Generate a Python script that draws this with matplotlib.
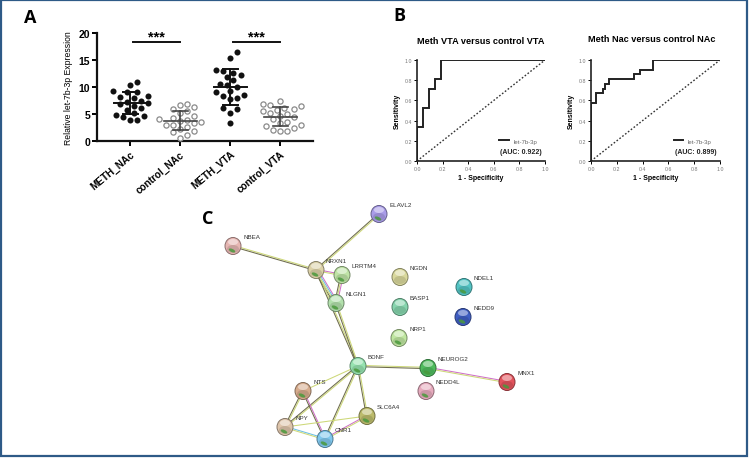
import numpy as np
import matplotlib
matplotlib.use("Agg")
import matplotlib.pyplot as plt
from matplotlib.patches import Ellipse, Rectangle
from matplotlib.colors import to_rgb

plt.rcParams['font.family'] = ['Liberation Sans', 'DejaVu Sans']

# ---- panel A data: relative let-7b-3p expression per group ----
groups = ['METH_NAc', 'control_NAc', 'METH_VTA', 'control_VTA']
meth_nac = [11.0, 10.4, 9.2, 9.0, 9.1, 8.4, 8.1, 7.9, 7.5, 7.2, 7.0, 6.8, 6.5, 6.2,
            5.8, 5.1, 4.8, 4.7, 4.5, 3.9, 3.9]
control_nac = [6.8, 6.7, 6.3, 6.0, 5.5, 5.1, 4.6, 4.3, 4.0, 3.9, 3.7, 3.5, 3.3, 3.0,
               2.9, 2.6, 2.3, 1.8, 1.6, 1.2, 0.6]
meth_vta = [16.5, 15.4, 13.1, 13.0, 12.2, 12.6, 11.8, 11.3, 10.6, 10.4, 10.0, 9.2,
            9.0, 8.6, 8.4, 8.0, 7.8, 6.2, 5.9, 5.1, 3.4]
control_vta = [7.4, 6.9, 6.6, 6.4, 6.2, 6.0, 5.8, 5.5, 5.2, 5.0, 4.6, 4.4, 4.0, 3.6,
               3.3, 3.0, 2.8, 2.5, 2.1, 1.9, 1.8]
group_values = [meth_nac, control_nac, meth_vta, control_vta]
sig_pairs = [(0, 1), (2, 3)]
sig_text = '***'

# ---- panel B data: ROC curves (1 - specificity, sensitivity) ----
roc_titles = ['Meth VTA versus control VTA', 'Meth Nac versus control NAc']
vta_fpr = [0.0, 0.048, 0.095, 0.143, 0.19, 1.0]
vta_tpr = [0.0, 0.333, 0.524, 0.714, 0.81, 1.0]
nac_fpr = [0.0, 0.04, 0.09, 0.11, 0.14, 0.33, 0.38, 0.48, 1.0]
nac_tpr = [0.0, 0.57, 0.67, 0.71, 0.76, 0.81, 0.86, 0.90, 1.0]
roc_auc = [0.922, 0.899]
roc_label = 'let-7b-3p'

# ---- panel C data: STRING network (layout in image pixels) ----
node_names = ['ELAVL2', 'NBEA', 'NRXN1', 'LRRTM4', 'NLGN1', 'NGDN', 'BASP1', 'NRP1',
              'NDEL1', 'NEDD9', 'BDNF', 'NEUROG2', 'NEDD4L', 'MNX1', 'NTS',
              'SLC6A4', 'NPY', 'CNR1']
node_x = [379, 233, 316, 342, 336, 400, 400, 399, 464, 463, 358, 428, 426, 507, 303,
          367, 285, 325]
node_y = [215, 247, 271, 276, 304, 278, 308, 339, 288, 318, 367, 369, 392, 383, 392,
          417, 428, 440]
node_colors = ['#a99ce8', '#e6b6b2', '#dcd2a8', '#bfe3a6', '#b2e0ac', '#d9d89c',
               '#86d4ad', '#bfe6a0', '#52c3c3', '#3f5ec2', '#96e2b0', '#4fbb5e',
               '#e6aabd', '#e2535c', '#d6ab8c', '#bcbb6c', '#dec5ab', '#80c8ee']
no_structure = ['NGDN', 'BASP1']
edges = [('ELAVL2', 'NRXN1', 'yd'), ('NBEA', 'NRXN1', 'yd'), ('NRXN1', 'NLGN1', 'mcyd'),
         ('NRXN1', 'LRRTM4', 'my'), ('LRRTM4', 'NLGN1', 'myd'), ('NRXN1', 'BDNF', 'yd'),
         ('NLGN1', 'BDNF', 'yd'), ('BDNF', 'NEUROG2', 'yd'), ('NEUROG2', 'MNX1', 'my'),
         ('BDNF', 'NTS', 'y'), ('BDNF', 'NPY', 'yd'), ('BDNF', 'CNR1', 'yd'),
         ('BDNF', 'SLC6A4', 'yd'), ('NTS', 'NPY', 'yd'), ('NTS', 'CNR1', 'md'),
         ('NPY', 'CNR1', 'cy'), ('NPY', 'SLC6A4', 'y'), ('CNR1', 'SLC6A4', 'my')]
edge_colors = {'y': '#cdd878', 'd': '#6e6c4c', 'm': '#cf70c9', 'c': '#6cc0e4'}

W, H = 749, 460
fig = plt.figure(figsize=(W / 100, H / 100), dpi=100)


def px_box(left, top, right, bottom):
    return [left / W, 1 - bottom / H, (right - left) / W, (bottom - top) / H]


def swarm(vals, xc, d_px, px_x, px_y):
    # simple beeswarm: nearest free horizontal slot for each point
    order = np.argsort(vals)
    placed = []
    xs = np.zeros(len(vals))
    step = d_px * 0.5
    for i in order:
        ypx = vals[i] * px_y
        for k in range(60):
            off = ((k + 1) // 2) * (1 if k % 2 == 1 else -1) * step
            if all((xo - off) ** 2 + (yo - ypx) ** 2 >= d_px ** 2 for xo, yo in placed):
                break
        placed.append((off, ypx))
        xs[i] = xc + off / px_x
    return xs


# ================= panel A =================
axA = fig.add_axes(px_box(97, 34, 313, 142))
axA.set_xlim(-0.66, 3.66)
axA.set_ylim(0, 20)
px_x = 216 / 4.32
px_y = 108 / 20
for i, vals in enumerate(group_values):
    vals = np.array(vals)
    xs = swarm(vals, i, 7.0, px_x, px_y)
    m, sd = vals.mean(), vals.std(ddof=1)
    if groups[i].startswith('METH'):
        axA.scatter(xs, vals, s=19, color='#111111', zorder=3, linewidths=0)
        lc, lw = '#111111', 1.4
    else:
        axA.scatter(xs, vals, s=14, facecolor='white', edgecolor='#8a8a8a',
                    linewidths=0.9, zorder=3)
        lc, lw = '#444444', 1.2
    axA.plot([i - 0.33, i + 0.33], [m, m], color=lc, lw=lw, zorder=4)
    axA.plot([i, i], [m - sd, m + sd], color=lc, lw=lw, zorder=4)
    for v in (m - sd, m + sd):
        axA.plot([i - 0.15, i + 0.15], [v, v], color=lc, lw=lw, zorder=4)
for a, b in sig_pairs:
    axA.plot([a + 0.06, b - 0.0], [18.3, 18.3], color='#111111', lw=1.4, clip_on=False)
    axA.text((a + b) / 2 + 0.03, 19.4, sig_text, ha='center', va='center',
             fontsize=10.5, fontweight='bold')
axA.spines[['top', 'right']].set_visible(False)
for s in ('left', 'bottom'):
    axA.spines[s].set_linewidth(1.6)
    axA.spines[s].set_color('#111111')
axA.set_yticks([0, 5, 10, 15, 20])
axA.set_xticks(range(4))
axA.set_xticklabels(groups, rotation=40, ha='right', rotation_mode='anchor',
                    fontsize=7.2, fontweight='bold')
axA.tick_params(axis='y', labelsize=7.5, length=3.5, width=1.4, pad=1.5)
axA.tick_params(axis='x', length=3.5, width=1.4, pad=2)
for t in axA.get_yticklabels():
    t.set_fontweight('bold')
axA.set_ylabel('Relative let-7b-3p Expression', fontsize=6.2, labelpad=4)

# ================= panel B =================
roc_boxes = [(417, 61, 545, 162), (591, 61, 720, 162)]
roc_curves = [(vta_fpr, vta_tpr), (nac_fpr, nac_tpr)]
title_pos = [(481, 42), (652, 39)]
for k in range(2):
    ax = fig.add_axes(px_box(*roc_boxes[k]))
    fpr, tpr = roc_curves[k]
    ax.step(fpr, tpr, where='pre', color='#222222', lw=1.4, label=roc_label,
            solid_joinstyle='miter')
    ax.plot([0, 1], [0, 1], ls=(0, (1.2, 1.4)), color='#333333', lw=1.0)
    ax.set_xlim(0, 1)
    ax.set_ylim(0, 1)
    ticks = np.arange(0, 1.01, 0.2)
    ax.set_xticks(ticks)
    ax.set_yticks(ticks)
    ax.set_xticklabels([f'{t:.1f}' for t in ticks])
    ax.set_yticklabels([f'{t:.1f}' for t in ticks])
    ax.tick_params(labelsize=3.8, labelcolor='#777777', length=2, width=0.7, pad=1.5)
    ax.spines[['top', 'right']].set_visible(False)
    for s in ('left', 'bottom'):
        ax.spines[s].set_linewidth(1.2)
        ax.spines[s].set_color('#222222')
    ax.set_xlabel('1 - Specificity', fontsize=5, fontweight='bold', labelpad=2)
    ax.set_ylabel('Sensitivity', fontsize=5, fontweight='bold', labelpad=3)
    ax.legend(loc='lower left', bbox_to_anchor=(0.6, 0.12), frameon=False,
              fontsize=4.3, handlelength=1.6, handletextpad=0.8,
              labelcolor='#666666')
    ax.text(0.81, 0.09, f'(AUC: {roc_auc[k]:.3f})', transform=ax.transAxes,
            ha='center', va='center', fontsize=5, fontweight='bold', color='#222222')
    fig.text(title_pos[k][0] / W, 1 - title_pos[k][1] / H, roc_titles[k],
             ha='center', va='center', fontsize=6.6, fontweight='bold')

# ================= panel C =================
axC = fig.add_axes([0, 0, 1, 1])
axC.set_xlim(0, W)
axC.set_ylim(H, 0)
axC.axis('off')
idx = {n: i for i, n in enumerate(node_names)}
for a, b, cols in edges:
    x0, y0 = node_x[idx[a]], node_y[idx[a]]
    x1, y1 = node_x[idx[b]], node_y[idx[b]]
    d = np.hypot(x1 - x0, y1 - y0)
    nx, ny = -(y1 - y0) / d, (x1 - x0) / d
    n = len(cols)
    for j, c in enumerate(cols):
        o = (j - (n - 1) / 2) * 1.3
        axC.plot([x0 + nx * o, x1 + nx * o], [y0 + ny * o, y1 + ny * o],
                 color=edge_colors[c], lw=0.75, zorder=2, solid_capstyle='butt')
for i, name in enumerate(node_names):
    x, y = node_x[i], node_y[i]
    base = np.array(to_rgb(node_colors[i]))
    axC.add_patch(Ellipse((x, y), 16, 17, fc=base, ec=base * 0.6, lw=0.7, zorder=3))
    axC.add_patch(Ellipse((x, y + 3), 12, 8, fc=base * 0.88, ec='none', zorder=3.5))
    axC.add_patch(Ellipse((x, y - 4), 10, 6, fc='white', alpha=0.45, ec='none',
                          zorder=4))
    if name not in no_structure:
        axC.add_patch(Ellipse((x - 1, y + 4.5), 7, 3.2, angle=25, fc='#4a9a3c',
                              alpha=0.85, ec='none', zorder=5))
    axC.text(x + 10, y - 9, name, fontsize=4.5, color='#333333', ha='left',
             va='center', zorder=6)

# panel letters
for letter, (lx, ly) in zip('ABC', [(30, 18), (399, 16), (208, 219)]):
    fig.text(lx / W, 1 - ly / H, letter, ha='center', va='center', fontsize=13,
             fontweight='bold', family=['Open Sans', 'DejaVu Sans'])

# outer frame
fig.patches.append(Rectangle((1 / W, 1 - 457 / H), 746 / W, 456 / H,
                             transform=fig.transFigure, fill=False,
                             ec='#2e5a87', lw=1.6))

fig.savefig('out.png', dpi=100)
